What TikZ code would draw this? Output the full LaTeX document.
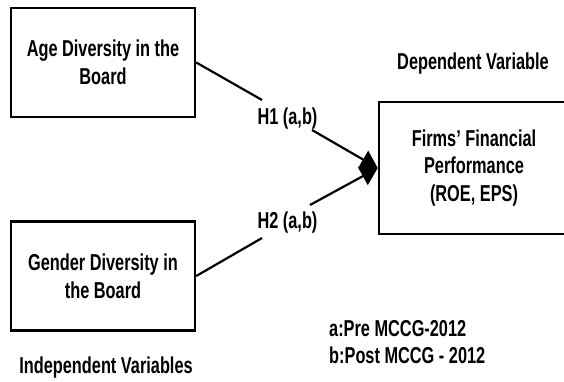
\documentclass[tikz,border=0pt]{standalone}
\usepackage{fontspec}
\setmainfont[FakeStretch=0.71]{Liberation Sans}
\usetikzlibrary{arrows.meta}
\tikzset{
  txt/.style={font=\fontsize{23}{27.7}\selectfont\bfseries, inner sep=0pt, align=center},
  varbox/.style={draw, line width=2.5pt, minimum width=184pt, minimum height=109pt, inner sep=0pt, txt},
  conn/.style={line width=2.2pt},
  arr/.style={conn, -{Triangle[length=17pt,width=20pt]}}
}
\begin{document}
\begin{tikzpicture}[x=1pt,y=-1pt]
\clip (0,0) rectangle (564,381);
\fill[white] (0,0) rectangle (564,381);
\node[varbox] (age) at (103,62.5) {Age Diversity in the\\Board};
\node[varbox] (gender) at (103,276) {Gender Diversity in\\the Board};
\node[varbox, minimum width=190pt, minimum height=132pt] (firms) at (474,168) {Firms’ Financial\\Performance\\(ROE, EPS)};
\node[txt] (dep) at (473,64) {Dependent Variable};
\node[txt] (indep) at (106,367.5) {Independent Variables};
\node[txt, anchor=west, align=left] (notes) at (329,342) {a:Pre MCCG-2012\\b:Post MCCG - 2012};
\node[txt] (h1) at (287.5,119) {H1 (a,b)};
\node[txt] (h2) at (287.5,223) {H2 (a,b)};
\coordinate (h1a) at (262,100);
\coordinate (h1b) at (312,130);
\coordinate (h2a) at (262,238);
\coordinate (h2b) at (310,205);
\draw[conn] (age.east) -- (h1a);
\draw[arr] (h1b) -- (firms.west);
\draw[conn] (gender.east) -- (h2a);
\draw[arr] (h2b) -- (firms.west);
\end{tikzpicture}
\end{document}
